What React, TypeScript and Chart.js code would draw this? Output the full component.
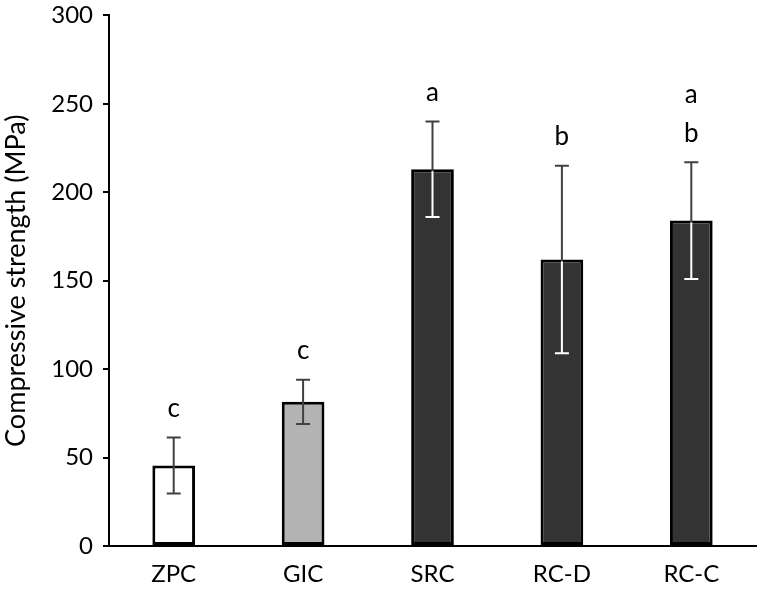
import React, { useEffect, useRef } from "react";
import { Chart, registerables } from "chart.js";

Chart.register(...registerables);

const categories = ["ZPC", "GIC", "SRC", "RC-D", "RC-C"];
const means = [45.5, 81.5, 213, 162, 184];
const sds = [15.8, 12.5, 27, 53, 33];
const letters = [["c"], ["c"], ["a"], ["b"], ["a", "b"]];
const fills = ["#ffffff", "#b3b3b3", "#333333", "#333333", "#333333"];
const yTicks = [0, 50, 100, 150, 200, 250, 300];

const FONT = "Lato, 'Open Sans', sans-serif";

const errorBarPlugin = {
  id: "errorBars",
  afterDatasetsDraw(chart: any) {
    const ctx = chart.ctx;
    const meta = chart.getDatasetMeta(0);
    const y = chart.scales.y;
    meta.data.forEach((bar: any, i: number) => {
      const x = bar.x;
      const top = y.getPixelForValue(means[i] + sds[i]);
      const bot = y.getPixelForValue(means[i] - sds[i]);
      const cap = 7;
      const drawBar = (color: string) => {
        ctx.save();
        ctx.strokeStyle = color;
        ctx.lineWidth = 2;
        ctx.beginPath();
        ctx.moveTo(x, top);
        ctx.lineTo(x, bot);
        ctx.moveTo(x - cap, top);
        ctx.lineTo(x + cap, top);
        ctx.moveTo(x - cap, bot);
        ctx.lineTo(x + cap, bot);
        ctx.stroke();
        ctx.restore();
      };
      drawBar("#404040");
      if (i >= 2) {
        const half = bar.width / 2;
        ctx.save();
        ctx.beginPath();
        ctx.rect(x - half + 2, bar.y + 2, bar.width - 4, bar.base - bar.y - 4);
        ctx.clip();
        drawBar("#ffffff");
        ctx.restore();
      }
      ctx.save();
      ctx.fillStyle = "#000";
      ctx.font = `26px ${FONT}`;
      ctx.textAlign = "center";
      ctx.textBaseline = "middle";
      const ls = letters[i];
      for (let k = 0; k < ls.length; k++) {
        const fromBottom = ls.length - 1 - k;
        ctx.fillText(ls[k], x, top - 29 - fromBottom * 39);
      }
      ctx.restore();
    });
  },
};

export default function App() {
  const ref = useRef<HTMLCanvasElement | null>(null);
  useEffect(() => {
    if (!ref.current) return;
    const chart = new Chart(ref.current, {
      type: "bar",
      data: {
        labels: categories,
        datasets: [
          {
            data: means,
            backgroundColor: fills,
            borderColor: "#000",
            borderWidth: 3,
            borderSkipped: false,
            categoryPercentage: 1,
            barPercentage: 0.33,
          },
        ],
      },
      options: {
        animation: false,
        responsive: true,
        maintainAspectRatio: false,
        layout: { padding: { top: 2, right: 4, left: 0, bottom: 0 } },
        plugins: { legend: { display: false }, tooltip: { enabled: false } },
        scales: {
          x: {
            grid: { display: false, drawTicks: false },
            border: { display: true, color: "#000", width: 2 },
            ticks: { color: "#000", font: { family: FONT, size: 24 }, padding: 14 },
            afterFit: (scale: any) => {
              scale.height = 46;
            },
          },
          y: {
            min: 0,
            max: 300,
            afterBuildTicks: (scale: any) => {
              scale.ticks = yTicks.map((v) => ({ value: v }));
            },
            afterFit: (scale: any) => {
              scale.width = 109;
            },
            grid: {
              display: true,
              drawOnChartArea: false,
              drawTicks: true,
              tickLength: 6,
              color: "#000",
              lineWidth: 2,
            },
            border: { display: true, color: "#000", width: 2 },
            ticks: { color: "#000", font: { family: FONT, size: 24 }, padding: 10 },
            title: {
              display: true,
              text: "Compressive strength (MPa)",
              color: "#000",
              font: { family: FONT, size: 27 },
              padding: { top: 0, bottom: 0 },
            },
          },
        },
      },
      plugins: [errorBarPlugin],
    });
    return () => chart.destroy();
  }, []);
  return (
    <div style={{ position: "absolute", left: 0, top: -9, width: 760, height: 601 }}>
      <canvas ref={ref} />
    </div>
  );
}
